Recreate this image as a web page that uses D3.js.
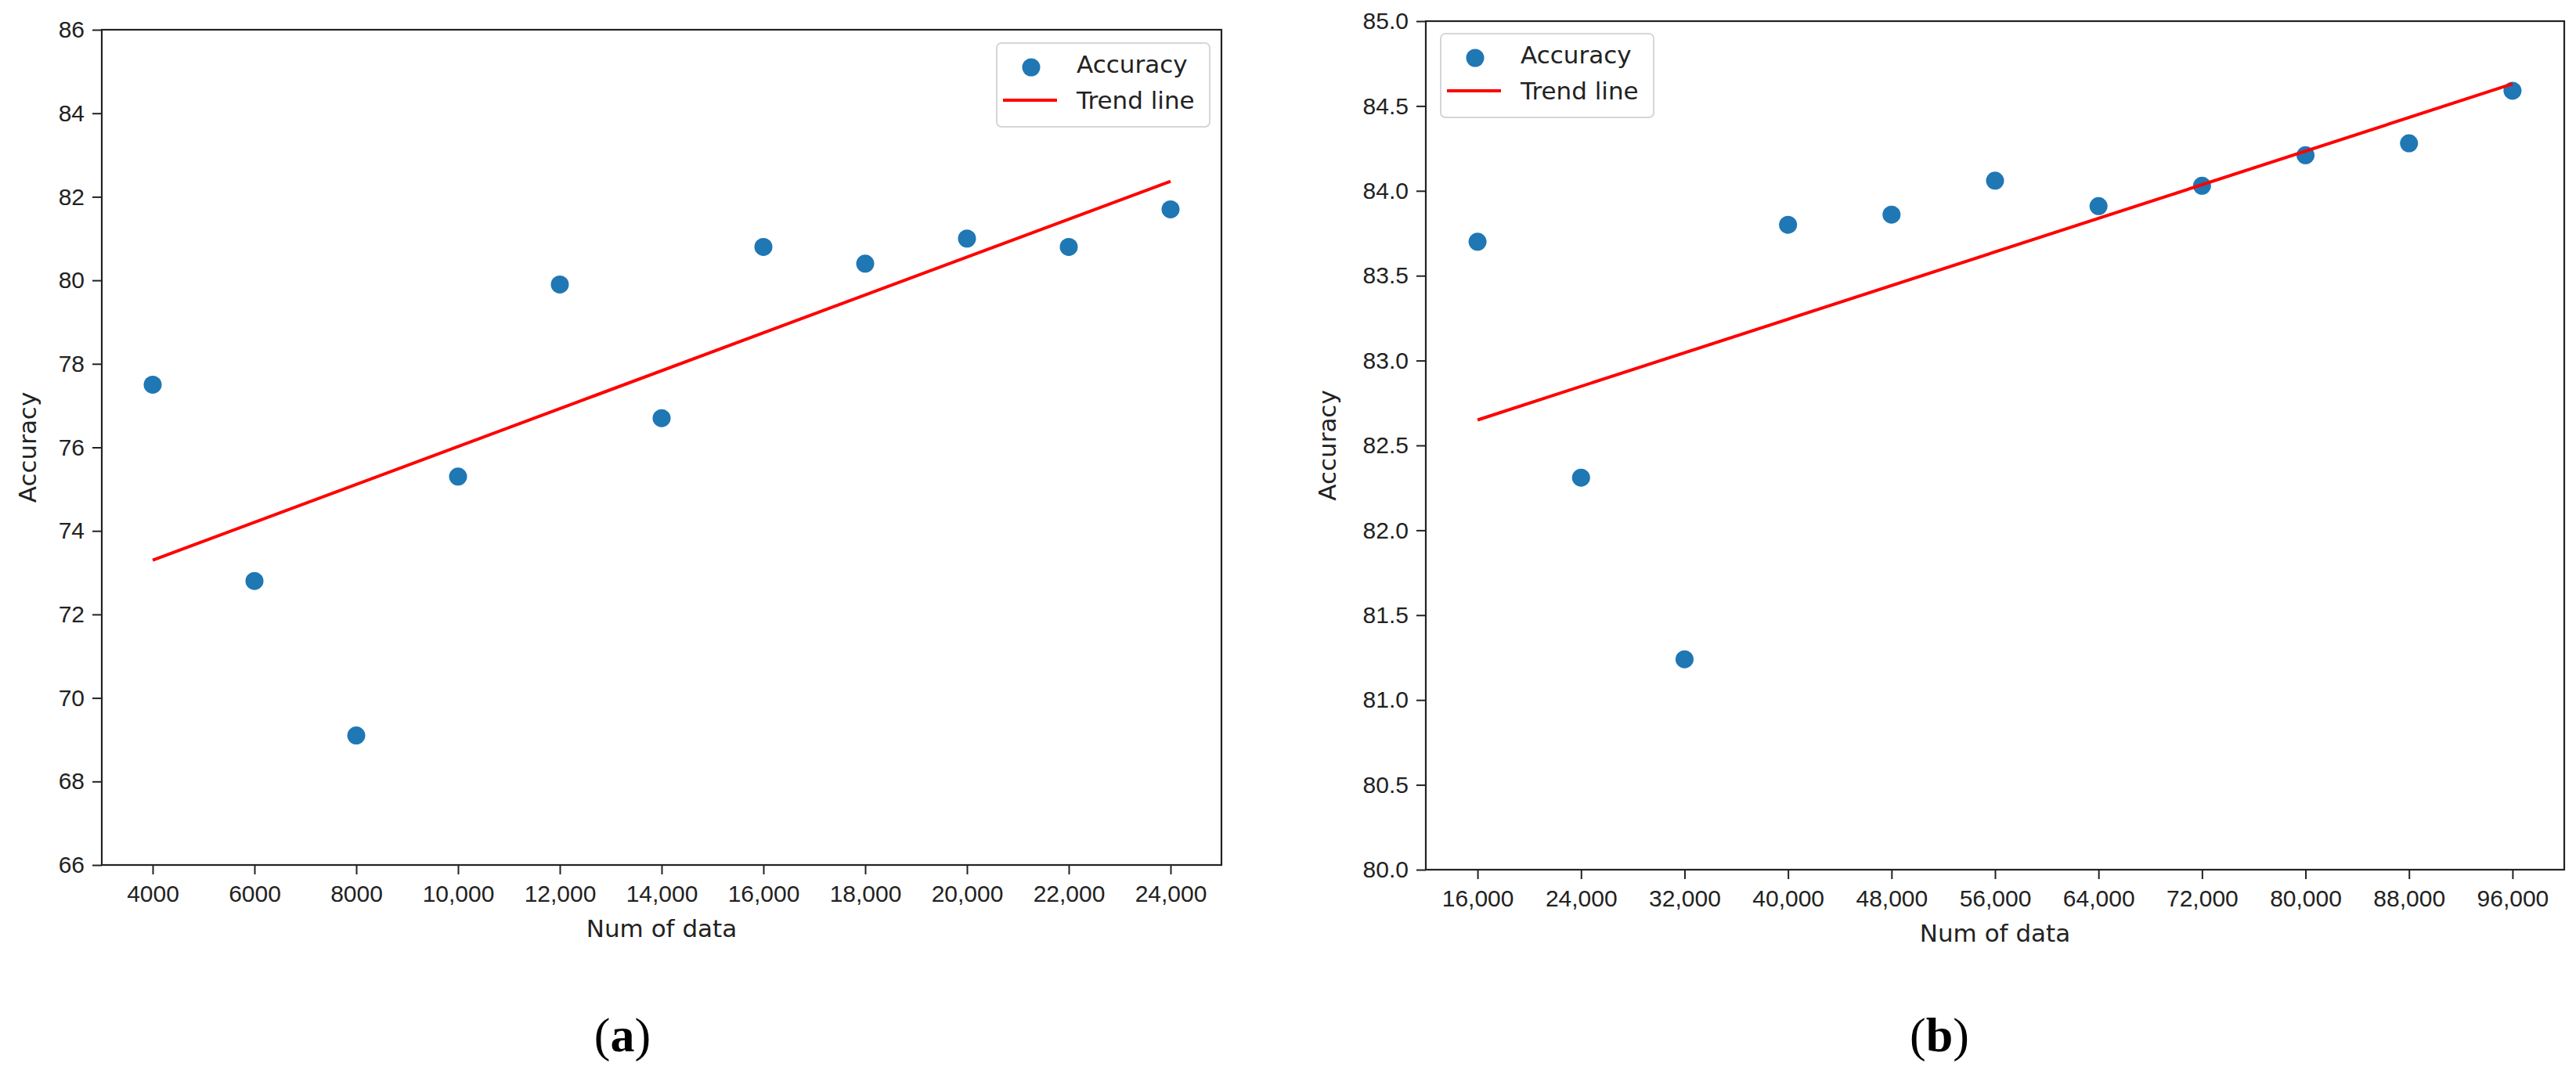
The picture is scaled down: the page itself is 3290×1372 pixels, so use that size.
<!DOCTYPE html>
<html>
<head>
<meta charset="utf-8">
<script src="https://cdn.jsdelivr.net/npm/d3@7"></script>
<style>
  body { margin: 0; background: #fff; }
  svg { display: block; font-family: "DejaVu Sans", sans-serif; }
</style>
</head>
<body>
<script>
'use strict';

// panel (a)
const numA = [4000, 6000, 8000, 10000, 12000, 14000, 16000, 18000, 20000, 22000, 24000];
const accA = [77.5, 72.8, 69.1, 75.3, 79.9, 76.7, 80.8, 80.4, 81.0, 80.8, 81.7];
const trendNumA = [4000, 24000];
const trendAccA = [73.3, 82.37];
const xLabelsA = ["4000", "6000", "8000", "10,000", "12,000", "14,000", "16,000", "18,000", "20,000", "22,000", "24,000"];
const yTicksA = [66, 68, 70, 72, 74, 76, 78, 80, 82, 84, 86];

// panel (b)
const numB = [16000, 24000, 32000, 40000, 48000, 56000, 64000, 72000, 80000, 88000, 96000];
const accB = [83.70, 82.31, 81.24, 83.80, 83.86, 84.06, 83.91, 84.03, 84.21, 84.28, 84.59];
const trendNumB = [16000, 96000];
const trendAccB = [82.65, 84.63];
const xLabelsB = ["16,000", "24,000", "32,000", "40,000", "48,000", "56,000", "64,000", "72,000", "80,000", "88,000", "96,000"];
const yTicksB = [80.0, 80.5, 81.0, 81.5, 82.0, 82.5, 83.0, 83.5, 84.0, 84.5, 85.0];

const seriesLabel = "Accuracy";
const trendLabel = "Trend line";

const svg = d3.select('body').append('svg')
  .attr('width', 3290)
  .attr('height', 1372);

// draw one matplotlib-like scatter panel
function drawPanel(p) {
  const g = svg.append('g');

  const xScale = d3.scaleLinear().domain(p.xDomain).range([p.left, p.right]);
  const yScale = d3.scaleLinear().domain(p.yDomain).range([p.bottom, p.top]);

  // x axis
  const xAxis = d3.axisBottom(xScale)
    .tickValues(p.num)
    .tickFormat((d, i) => p.xLabels[i])
    .tickSize(12)
    .tickPadding(14)
    .tickSizeOuter(0);
  const gx = g.append('g')
    .attr('transform', `translate(0,${p.bottom})`)
    .call(xAxis);
  gx.select('.domain').remove();
  gx.selectAll('line').attr('stroke', '#222').attr('stroke-width', 2);
  gx.selectAll('text').style('font-size', '30px').attr('fill', '#222');

  // y axis
  const yAxis = d3.axisLeft(yScale)
    .tickValues(p.yTicks)
    .tickFormat(p.yFormat)
    .tickSize(12)
    .tickPadding(10)
    .tickSizeOuter(0);
  const gy = g.append('g')
    .attr('transform', `translate(${p.left},0)`)
    .call(yAxis);
  gy.select('.domain').remove();
  gy.selectAll('line').attr('stroke', '#222').attr('stroke-width', 2);
  gy.selectAll('text').style('font-size', '30px').attr('fill', '#222');

  // frame
  g.append('rect')
    .attr('x', p.left)
    .attr('y', p.top)
    .attr('width', p.right - p.left)
    .attr('height', p.bottom - p.top)
    .attr('fill', 'none')
    .attr('stroke', '#222')
    .attr('stroke-width', 2.2);

  // points
  g.selectAll('.dot')
    .data(p.num)
    .enter()
    .append('circle')
      .attr('class', 'dot')
      .attr('cx', d => xScale(d))
      .attr('cy', (d, i) => yScale(p.acc[i]))
      .attr('r', 11.5)
      .attr('fill', '#1f77b4');

  // trend line
  const line = d3.line()
    .x(d => xScale(d[0]))
    .y(d => yScale(d[1]));
  g.append('path')
    .datum(p.trendNum.map((d, i) => [d, p.trendAcc[i]]))
    .attr('d', line)
    .attr('fill', 'none')
    .attr('stroke', '#ff0000')
    .attr('stroke-width', 4);

  // labels
  g.append('text')
    .attr('x', (p.left + p.right) / 2)
    .attr('y', p.bottom + 92)
    .attr('text-anchor', 'middle')
    .style('font-size', '31px')
    .attr('fill', '#222')
    .text('Num of data');

  g.append('text')
    .attr('transform', `translate(${p.yLabelX}, ${(p.top + p.bottom) / 2}) rotate(-90)`)
    .attr('text-anchor', 'middle')
    .style('font-size', '31px')
    .attr('fill', '#222')
    .text('Accuracy');

  // legend
  const lg = g.append('g').attr('transform', `translate(${p.legX},${p.legY})`);
  lg.append('rect')
    .attr('width', 272)
    .attr('height', 107)
    .attr('rx', 6)
    .attr('fill', 'rgba(255,255,255,0.8)')
    .attr('stroke', '#d6d6d6')
    .attr('stroke-width', 2);
  lg.append('circle')
    .attr('cx', 44)
    .attr('cy', 31)
    .attr('r', 11.5)
    .attr('fill', '#1f77b4');
  lg.append('text')
    .attr('x', 102)
    .attr('y', 38)
    .style('font-size', '31px')
    .attr('fill', '#222')
    .text(seriesLabel);
  lg.append('line')
    .attr('x1', 8)
    .attr('x2', 77)
    .attr('y1', 73)
    .attr('y2', 73)
    .attr('stroke', '#ff0000')
    .attr('stroke-width', 4);
  lg.append('text')
    .attr('x', 102)
    .attr('y', 84)
    .style('font-size', '31px')
    .attr('fill', '#222')
    .text(trendLabel);

  // caption
  const cap = g.append('text')
    .attr('x', p.capX)
    .attr('y', 1343)
    .attr('text-anchor', 'middle')
    .style('font-family', '"Liberation Serif", "DejaVu Serif", serif')
    .style('font-size', '62px')
    .attr('fill', '#000');
  cap.append('tspan').text('(');
  cap.append('tspan').style('font-weight', 'bold').text(p.caption);
  cap.append('tspan').text(')');
}

drawPanel({
  num: numA, acc: accA, trendNum: trendNumA, trendAcc: trendAccA,
  xLabels: xLabelsA, yTicks: yTicksA, yFormat: d3.format('d'),
  xDomain: [3000, 25000], yDomain: [66, 86],
  left: 130, right: 1560, top: 38, bottom: 1105,
  yLabelX: 46, legX: 1273, legY: 55, capX: 795, caption: 'a'
});

drawPanel({
  num: numB, acc: accB, trendNum: trendNumB, trendAcc: trendAccB,
  xLabels: xLabelsB, yTicks: yTicksB, yFormat: d3.format('.1f'),
  xDomain: [12000, 100000], yDomain: [80, 85],
  left: 1821, right: 3275, top: 27, bottom: 1111,
  yLabelX: 1706, legX: 1840, legY: 43, capX: 2477, caption: 'b'
});
</script>
</body>
</html>
